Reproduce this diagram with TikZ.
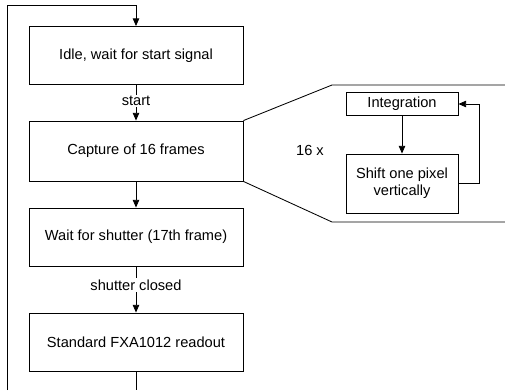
\documentclass[tikz,border=0pt]{standalone}
\usepackage{fontspec}
\setmainfont{Liberation Sans}
\usepackage{tikz}
\usetikzlibrary{positioning,arrows.meta}
\tikzset{>={Triangle[length=5.5pt,width=4.6pt]}}

\begin{document}
\begin{tikzpicture}[line width=0.6pt, font=\fontsize{10.4pt}{12.4pt}\selectfont]
    \tikzset{%
      step box/.style={draw, fill=white, minimum width=5.35cm, minimum height=1.45cm},
      inner box/.style={draw, fill=white, minimum width=2.8cm, align=center},
      edge label/.style={fill=white, inner sep=1pt}
      }
    \useasboundingbox (0,0) rectangle (12.625,9.75);

    \node [step box] (idle) at (3.4,8.3625) {Idle, wait for start signal};
    \node [step box, minimum height=1.5cm] (capture) at (3.4,5.975) {Capture of 16 frames};
    \node [step box] (wait) at (3.4,3.825) {Wait for shutter (17th frame)};
    \node [step box] (readout) at (3.4,1.2) {Standard FXA1012 readout};

    \draw [->] (idle.south) -- node [edge label, pos=0.45] {start} (capture.north);
    \draw [->] (capture.south) -- (wait.north);
    \draw [->] (wait.south) -- node [edge label, pos=0.4] {shutter closed} (readout.north);

    % loop back to the start
    \coordinate (Lbot) at (0.175,0);
    \coordinate (Ltop) at (0.175,9.625);
    \coordinate (Rbot) at (3.4,0);
    \draw (readout.south) -- (Rbot);
    \draw [->] (Lbot) -- (Ltop) -| (idle.north);

    % detail of the capture step
    \coordinate (Zt) at (8.3,7.625);
    \coordinate (Zb) at (8.3,4.2);
    \coordinate (Ztr) at (12.625,7.625);
    \coordinate (Zbr) at (12.625,4.2);
    \draw (capture.north east) -- (Zt) -- (Ztr);
    \draw (capture.south east) -- (Zb) -- (Zbr);

    \node [inner box, minimum height=0.55cm] (integ) at (10.05,7.15) {Integration};
    \node [inner box, minimum height=1.475cm] (shift) at (10.05,5.1625) {Shift one pixel\\vertically};
    \node (times) at (7.75,6.0) {16 x};
    \draw [->] (integ.south) -- (shift.north);
    \coordinate (Fb) at (11.975,5.1625);
    \draw [->] (shift.east) -- (Fb) |- (integ.east);

  \end{tikzpicture}
\end{document}
